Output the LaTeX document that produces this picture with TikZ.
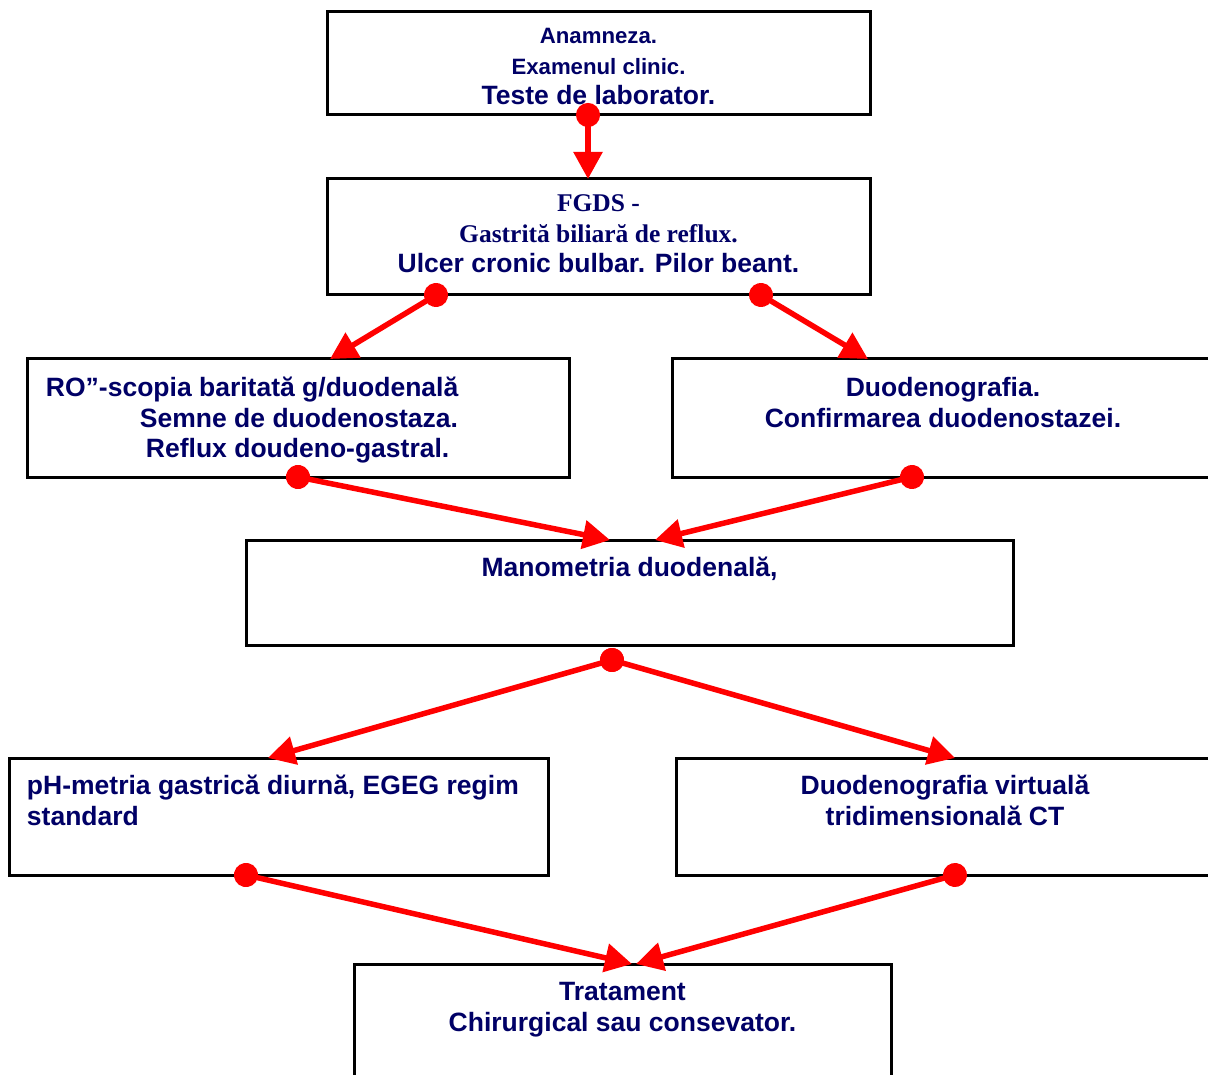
\documentclass[tikz,border=0pt]{standalone}
\usepackage{fontspec}
\setmainfont{Liberation Sans}
\newfontfamily\serifbold{Liberation Serif}
\usetikzlibrary{arrows.meta}

\definecolor{navytext}{RGB}{0,0,102}
\newcommand{\txtsmall}{\fontsize{22.2}{30.5}\selectfont}
\newcommand{\txtbig}{\rmfamily\fontsize{26.5}{30.5}\selectfont}
\newcommand{\txtserif}{\serifbold\fontsize{25.5}{30.5}\selectfont}
\newcommand{\boxbody}[3]{\parbox[c][#2][t]{#1}{#3}}

\begin{document}
\begin{tikzpicture}[
    x=1pt,
    y=-1pt,
    box/.style={
        draw=black,
        line width=3pt,
        inner sep=0pt,
        outer sep=0pt,
        anchor=north west,
        font=\bfseries,
        text=navytext
    },
    link/.style={
        draw=red,
        line width=5.5pt,
        arrows={Circle[length=24pt]-Triangle[length=27pt,width=28pt]},
        shorten <=-12pt
    }
]

\fill[white] (0,0) rectangle (1208,1075);
\useasboundingbox (0,0) rectangle (1208,1075);
\clip (0,0) rectangle (1208,1075);

% boxes
\node[box] (exam) at (327,12) {\boxbody{543pt}{103pt}{\centering\rule{0pt}{32pt}\txtsmall Anamneza.\\
    Examenul clinic.\\
    \txtbig Teste de laborator.}};
\node[box] (fgds) at (327,179) {\boxbody{543pt}{116pt}{\centering\rule{0pt}{33pt}\txtserif FGDS -\\
    Gastrită biliară de reflux.\\
    \txtbig Ulcer cronic bulbar. Pilor beant.}};
\node[box] (ro) at (27,359) {\boxbody{542pt}{118pt}{\raggedright\rule{0pt}{37.5pt}\txtbig\hspace*{19pt}RO”-scopia baritată g/duodenală\\
    \hspace*{113pt}Semne de duodenostaza.\\
    \hspace*{119pt}Reflux doudeno-gastral.}};
\node[box] (duod) at (672,359) {\boxbody{542pt}{118pt}{\centering\rule{0pt}{37.5pt}\txtbig Duodenografia.\\
    Confirmarea duodenostazei.}};
\node[box] (man) at (246,540) {\boxbody{767pt}{105pt}{\centering\rule{0pt}{36.5pt}\txtbig Manometria duodenală,}};
\node[box] (ph) at (9,758) {\boxbody{539pt}{117pt}{\raggedright\rule{0pt}{36.5pt}\txtbig\hspace*{18pt}pH-metria gastrică diurnă, EGEG regim\\
    \hspace*{18pt}standard}};
\node[box] (dv) at (676,758) {\boxbody{538pt}{117pt}{\centering\rule{0pt}{36.5pt}\txtbig Duodenografia virtuală\\
    tridimensională CT}};
\node[box] (trat) at (354,964) {\boxbody{537pt}{126pt}{\centering\rule{0pt}{36.5pt}\txtbig Tratament\\
    Chirurgical sau consevator.}};

\coordinate (split) at ([xshift=366pt,yshift=-15pt]man.south west);

% arrows
\draw[link] ([xshift=261pt]exam.south west) -- ([xshift=261pt]fgds.north west);
\draw[link] ([xshift=109pt]fgds.south west) -- ([xshift=303pt]ro.north west);
\draw[link] ([xshift=434pt]fgds.south west) -- ([xshift=196pt]duod.north west);
\draw[link] ([xshift=271pt]ro.south west) -- ([xshift=364pt]man.north west);
\draw[link] ([xshift=240pt]duod.south west) -- ([xshift=409pt]man.north west);
\draw[link] (split) -- ([xshift=259pt]ph.north west);
\draw[link] (split) -- ([xshift=279pt]dv.north west);
\draw[link] ([xshift=237pt]ph.south west) -- ([xshift=278pt]trat.north west);
\draw[link] ([xshift=279pt]dv.south west) -- ([xshift=282pt]trat.north west);

\end{tikzpicture}
\end{document}
